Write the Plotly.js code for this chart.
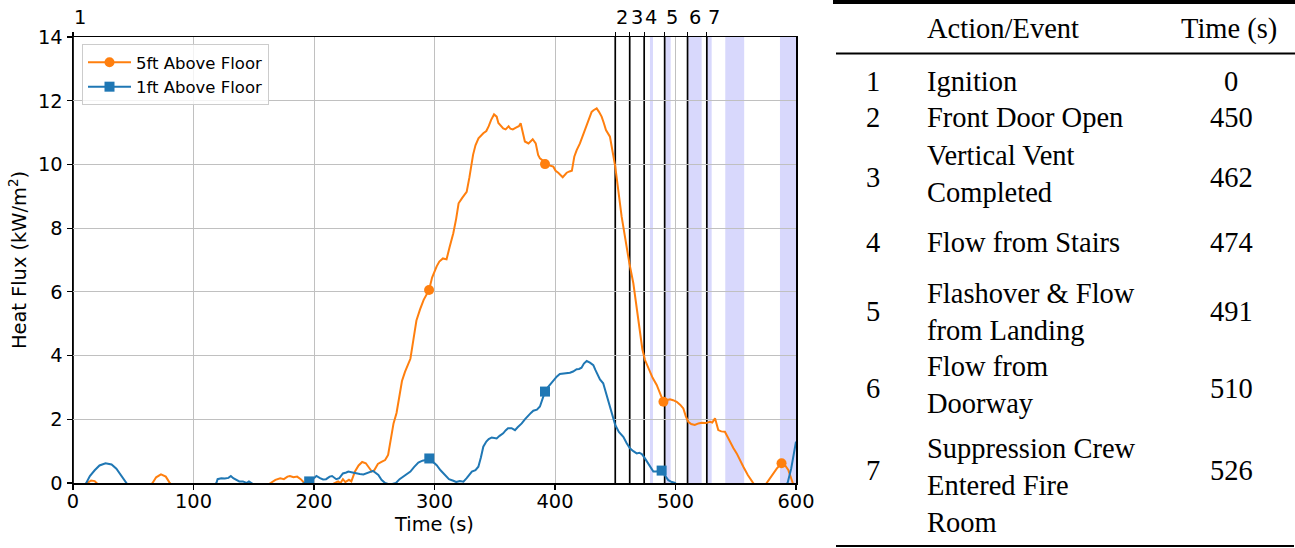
<!DOCTYPE html>
<html>
<head>
<meta charset="utf-8">
<script src="https://cdn.plot.ly/plotly-3.0.1.min.js"></script>
<style>html,body{margin:0;padding:0;background:#fff;}#chart{width:1295px;height:548px;}</style>
</head>
<body>
<div id="chart"></div>
<script>
// ---------------- DATA ----------------
const orangeT = [0,8,12,15,18,21,30,45,60,66,69,73,77,80,85,99,120,140,155,164,168,172,175,178,180,183,186,189,192,197,205,212,218,220,222,224,226,229,231,234,237,240,243,246,248,250,253,256,259,261.5,264,266,268.5,271,273,275.5,278,280,282.5,285,288,291,295.5,298,301.8,304,307,310,312.5,315.6,318,320,323,326.7,329,332,334,336.5,340.5,343,345,347,349.4,351.6,353,355,357,359,361.5,363,365,368,370,371.5,373,375,378,381.5,384,386,387.5,390,391.7,395,398.6,400.5,402.7,406.4,409.7,412,414,416,418,420.7,423,425,427,430.4,432,434.6,436.5,438.7,440.5,442.3,445.6,447.5,450,455.3,459.5,461.7,465,468,470.5,472.5,474.7,478.8,481,484.4,487,490,492.5,495.4,498,501,504,506.5,508.5,510.6,513,516,519,521.7,525,528.6,530.5,532.8,535.5,538,541,543,545,548,550.8,553,556.3,560,564.6,568,572,575.7,578,581,584,588,591,593.6,596,598,600];
const orangeV = [-0.3,-0.1,0.02,0.08,0.06,-0.05,-0.4,-0.5,-0.2,0.0,0.18,0.27,0.2,0.02,-0.2,-0.5,-0.6,-0.4,-0.2,0.0,0.1,0.15,0.12,0.2,0.22,0.18,0.2,0.12,0.0,-0.15,-0.2,-0.1,0.0,0.05,0.0,0.12,0.03,0.1,0.05,0.36,0.55,0.66,0.62,0.45,0.36,0.4,0.6,0.66,0.72,0.88,1.45,1.87,2.2,2.75,3.2,3.49,3.7,3.9,4.5,5.1,5.45,5.75,6.06,6.45,6.8,6.95,7.05,7.02,7.4,7.84,8.3,8.78,8.95,9.14,9.6,10.3,10.6,10.82,10.98,11.05,11.2,11.4,11.57,11.5,11.3,11.2,11.13,11.1,11.2,11.12,11.1,11.16,11.2,11.29,11.0,10.72,10.66,10.79,10.66,10.3,10.19,10.12,10.01,9.97,9.93,9.8,9.74,9.6,9.74,9.78,9.8,10.24,10.45,10.66,10.9,11.08,11.35,11.65,11.7,11.76,11.65,11.5,11.3,11.08,10.87,10.5,9.93,8.36,7.31,6.9,6.27,5.5,4.8,4.2,3.86,3.49,3.3,3.08,2.85,2.55,2.6,2.63,2.6,2.55,2.45,2.34,2.1,1.92,1.85,1.82,1.87,1.89,1.88,1.92,1.9,2.03,1.66,1.62,1.61,1.45,1.3,1.1,0.93,0.78,0.51,0.25,0.0,-0.2,-0.2,0.0,0.15,0.3,0.45,0.62,0.55,0.41,0.15,-0.05,-0.3];

const blueT = [0,8,11,14,18,22,27,32,36,40,44,48,60,80,99,112,119,120,123,126,129,131,133,136,138,141,144,146,148,152,170,185,192,196,199,202,205,207.5,210,213,215,218.5,221,224,226.8,228.5,231,233,235.4,238,241,243,246,249,251,253.4,256,259,263,266,268,271,275,280,283,286.6,290,293,295.7,298,301.8,305,308.7,312,315.6,318,321,324,326.7,329,331,334,336.4,338.5,340.5,343,345,347.5,351.6,354,357,359,361,364,366.8,369,372.4,375,377.9,380,382,385,387.5,389.5,391.7,394,397,399,401.4,404,407,410,412.4,415,418,420,422,424,426.3,429,431.8,433.5,435,437.3,440,442,444.3,447,450,453,456.7,459.5,462.2,465,467.8,470,472,474.5,477.4,479.5,481.6,484,486,488.5,491,494,497,499.6,505,540,580,590,593,596,598,600];
const blueV = [-0.5,-0.1,0.0,0.22,0.4,0.55,0.62,0.58,0.45,0.22,0.0,-0.2,-0.6,-0.7,-0.5,-0.2,0.0,0.12,0.15,0.14,0.16,0.22,0.15,0.1,0.05,0.05,0.0,0.05,0.0,-0.1,-0.3,-0.1,0.0,0.05,0.12,0.22,0.15,0.11,0.12,0.2,0.22,0.12,0.15,0.3,0.33,0.36,0.34,0.32,0.3,0.28,0.27,0.3,0.33,0.38,0.32,0.25,0.1,0.0,-0.05,-0.03,0.0,0.12,0.22,0.36,0.5,0.64,0.7,0.72,0.77,0.7,0.56,0.4,0.25,0.12,0.07,0.03,0.06,0.04,0.15,0.25,0.36,0.4,0.51,0.8,1.14,1.3,1.38,1.43,1.4,1.48,1.56,1.65,1.72,1.72,1.66,1.75,1.87,2.0,2.13,2.2,2.27,2.3,2.4,2.6,2.87,3.0,3.15,3.25,3.34,3.42,3.44,3.44,3.46,3.5,3.57,3.58,3.62,3.75,3.83,3.78,3.7,3.55,3.44,3.25,3.13,2.85,2.6,2.2,1.82,1.6,1.45,1.25,1.09,1.0,0.93,0.95,0.91,0.78,0.62,0.48,0.36,0.36,0.38,0.39,0.25,0.09,0.03,0.0,-0.2,-0.6,-0.4,-0.1,0.0,0.45,0.85,1.3];

const orangeMarkT = [295.5, 391.7, 490, 588];
const orangeMarkV = [6.06, 10.01, 2.55, 0.62];
const blueMarkT = [196, 295.7, 391.7, 488.5];
const blueMarkV = [0.05, 0.77, 2.87, 0.39];

const seriesNames = ['5ft Above Floor', '1ft Above Floor'];

// events (table + vertical lines)
const eventNums = ['1','2','3','4','5','6','7'];
const eventNames = ['Ignition','Front Door Open','Vertical Vent<br>Completed','Flow from Stairs','Flashover &amp; Flow<br>from Landing','Flow from<br>Doorway','Suppression Crew<br>Entered Fire<br>Room'];
const eventTimes = [0, 450, 462, 474, 491, 510, 526];

// shaded intervals [start, end] (s)
const bandStart = [478.8, 491.5, 510.6, 526.4, 541.3, 586.7];
const bandEnd   = [481.3, 496.0, 521.7, 530.0, 557.0, 600.5];

const xTicks = [0,100,200,300,400,500,600];
const yTicks = [0,2,4,6,8,10,12,14];

// ---------------- LAYOUT HELPERS ----------------
const L = 73, R = 796, T = 37, B = 483;
const px2x = p => (p - L) / (R - L);
const py2y = p => (B - p) / (B - T);

const ORANGE = '#ff7f0e', BLUE = '#1f77b4';
const SANS = 'DejaVu Sans, sans-serif';
const SERIF = '"Liberation Serif", "Times New Roman", serif';

const traces = [
  {x: orangeT, y: orangeV, mode: 'lines', line: {color: ORANGE, width: 2}, showlegend: false, hoverinfo: 'skip'},
  {x: blueT, y: blueV, mode: 'lines', line: {color: BLUE, width: 2}, showlegend: false, hoverinfo: 'skip'},
  {x: orangeMarkT, y: orangeMarkV, mode: 'markers', marker: {color: ORANGE, size: 10, symbol: 'circle'}, showlegend: false},
  {x: blueMarkT, y: blueMarkV, mode: 'markers', marker: {color: BLUE, size: 10, symbol: 'square'}, showlegend: false},
  {x: [null], y: [null], xaxis: 'x2', mode: 'lines+markers', name: seriesNames[0], line: {color: ORANGE, width: 2}, marker: {color: ORANGE, size: 10, symbol: 'circle'}},
  {x: [null], y: [null], xaxis: 'x2', mode: 'lines+markers', name: seriesNames[1], line: {color: BLUE, width: 2}, marker: {color: BLUE, size: 10, symbol: 'square'}}
];

const shapes = [];
for (let i = 0; i < bandStart.length; i++) {
  shapes.push({type: 'rect', xref: 'x', yref: 'paper', x0: bandStart[i], x1: bandEnd[i], y0: 0, y1: 1,
    fillcolor: 'rgba(60,60,240,0.2)', line: {width: 0}, layer: 'below'});
}
for (let i = 0; i < eventTimes.length; i++) {
  shapes.push({type: 'line', xref: 'x', yref: 'paper', x0: eventTimes[i], x1: eventTimes[i], y0: 0, y1: 1,
    line: {color: '#000', width: 1.7}, layer: 'between'});
}
// table rules
shapes.push({type: 'line', xref: 'paper', yref: 'paper', x0: px2x(833), x1: px2x(1296), y0: py2y(2), y1: py2y(2), line: {color: '#000', width: 4}});
shapes.push({type: 'line', xref: 'paper', yref: 'paper', x0: px2x(836), x1: px2x(1296), y0: py2y(53.5), y1: py2y(53.5), line: {color: '#000', width: 1.8}});
shapes.push({type: 'line', xref: 'paper', yref: 'paper', x0: px2x(836), x1: px2x(1294), y0: py2y(546), y1: py2y(546), line: {color: '#000', width: 1.8}});

const annotations = [];
// top event labels
for (let i = 0; i < eventNums.length; i++) {
  annotations.push({x: eventTimes[i], xref: 'x', y: 1, yref: 'paper', yanchor: 'bottom', xanchor: 'left',
    yshift: 6, xshift: -1, text: eventNums[i], showarrow: false, font: {family: SANS, size: 19.4, color: '#000'}});
}
// table
const tf = {family: SERIF, size: 28.5, color: '#000'};
annotations.push({x: px2x(925), y: py2y(29), xref: 'paper', yref: 'paper', xanchor: 'left', yanchor: 'middle', text: 'Action/Event', showarrow: false, font: tf});
annotations.push({x: px2x(1229), y: py2y(29), xref: 'paper', yref: 'paper', xanchor: 'center', yanchor: 'middle', text: 'Time (s)', showarrow: false, font: tf});
const textCenters = [82, 118, 174, 242, 311.5, 384.5, 485];
const numCenters  = [82, 118, 177, 242, 311, 388, 470];
for (let i = 0; i < eventNums.length; i++) {
  annotations.push({x: px2x(873), y: py2y(numCenters[i]), xref: 'paper', yref: 'paper', xanchor: 'center', yanchor: 'middle', text: eventNums[i], showarrow: false, font: tf});
  annotations.push({x: px2x(925), y: py2y(textCenters[i]), xref: 'paper', yref: 'paper', xanchor: 'left', yanchor: 'middle', align: 'left', text: eventNames[i], showarrow: false, font: tf});
  annotations.push({x: px2x(1231), y: py2y(numCenters[i]), xref: 'paper', yref: 'paper', xanchor: 'center', yanchor: 'middle', text: String(eventTimes[i]), showarrow: false, font: tf});
}

const axisCommon = {
  showline: true, linecolor: '#000', linewidth: 1.5, mirror: true,
  ticks: 'outside', ticklen: 5, tickwidth: 1.2, tickcolor: '#000',
  showgrid: true, gridcolor: '#c0c0c0', gridwidth: 1, zeroline: false,
  tickfont: {family: SANS, size: 19.4, color: '#000'}
};

const layout = {
  width: 1295, height: 548,
  margin: {l: L, r: 1295 - R, t: T, b: 548 - B, pad: 0},
  paper_bgcolor: '#fff', plot_bgcolor: '#fff',
  font: {family: SANS, color: '#000'},
  xaxis: Object.assign({}, axisCommon, {range: [0, 600], tickvals: xTicks, ticklabelstandoff: -5,
    title: {text: 'Time (s)', font: {family: SANS, size: 19.4, color: '#000'}, standoff: 4}}),
  xaxis2: {overlaying: 'x', side: 'top', range: [0, 600], tickvals: eventTimes, showticklabels: false,
    ticks: 'outside', ticklen: 4, tickwidth: 1.2, tickcolor: '#000', showgrid: false, zeroline: false, showline: false},
  yaxis: Object.assign({}, axisCommon, {range: [0, 14], tickvals: yTicks,
    title: {text: 'Heat Flux (kW/m<sup>2</sup>)', font: {family: SANS, size: 19.4, color: '#000'}, standoff: 6}}),
  showlegend: true,
  legend: {x: px2x(82), y: py2y(44), xanchor: 'left', yanchor: 'top', bgcolor: 'rgba(255,255,255,0.8)',
    bordercolor: '#cccccc', borderwidth: 1, font: {family: SANS, size: 16.5, color: '#000'}, tracegroupgap: 0,
    itemwidth: 43},
  shapes: shapes,
  annotations: annotations
};

Plotly.newPlot('chart', traces, layout, {staticPlot: true, displayModeBar: false});
</script>
</body>
</html>
